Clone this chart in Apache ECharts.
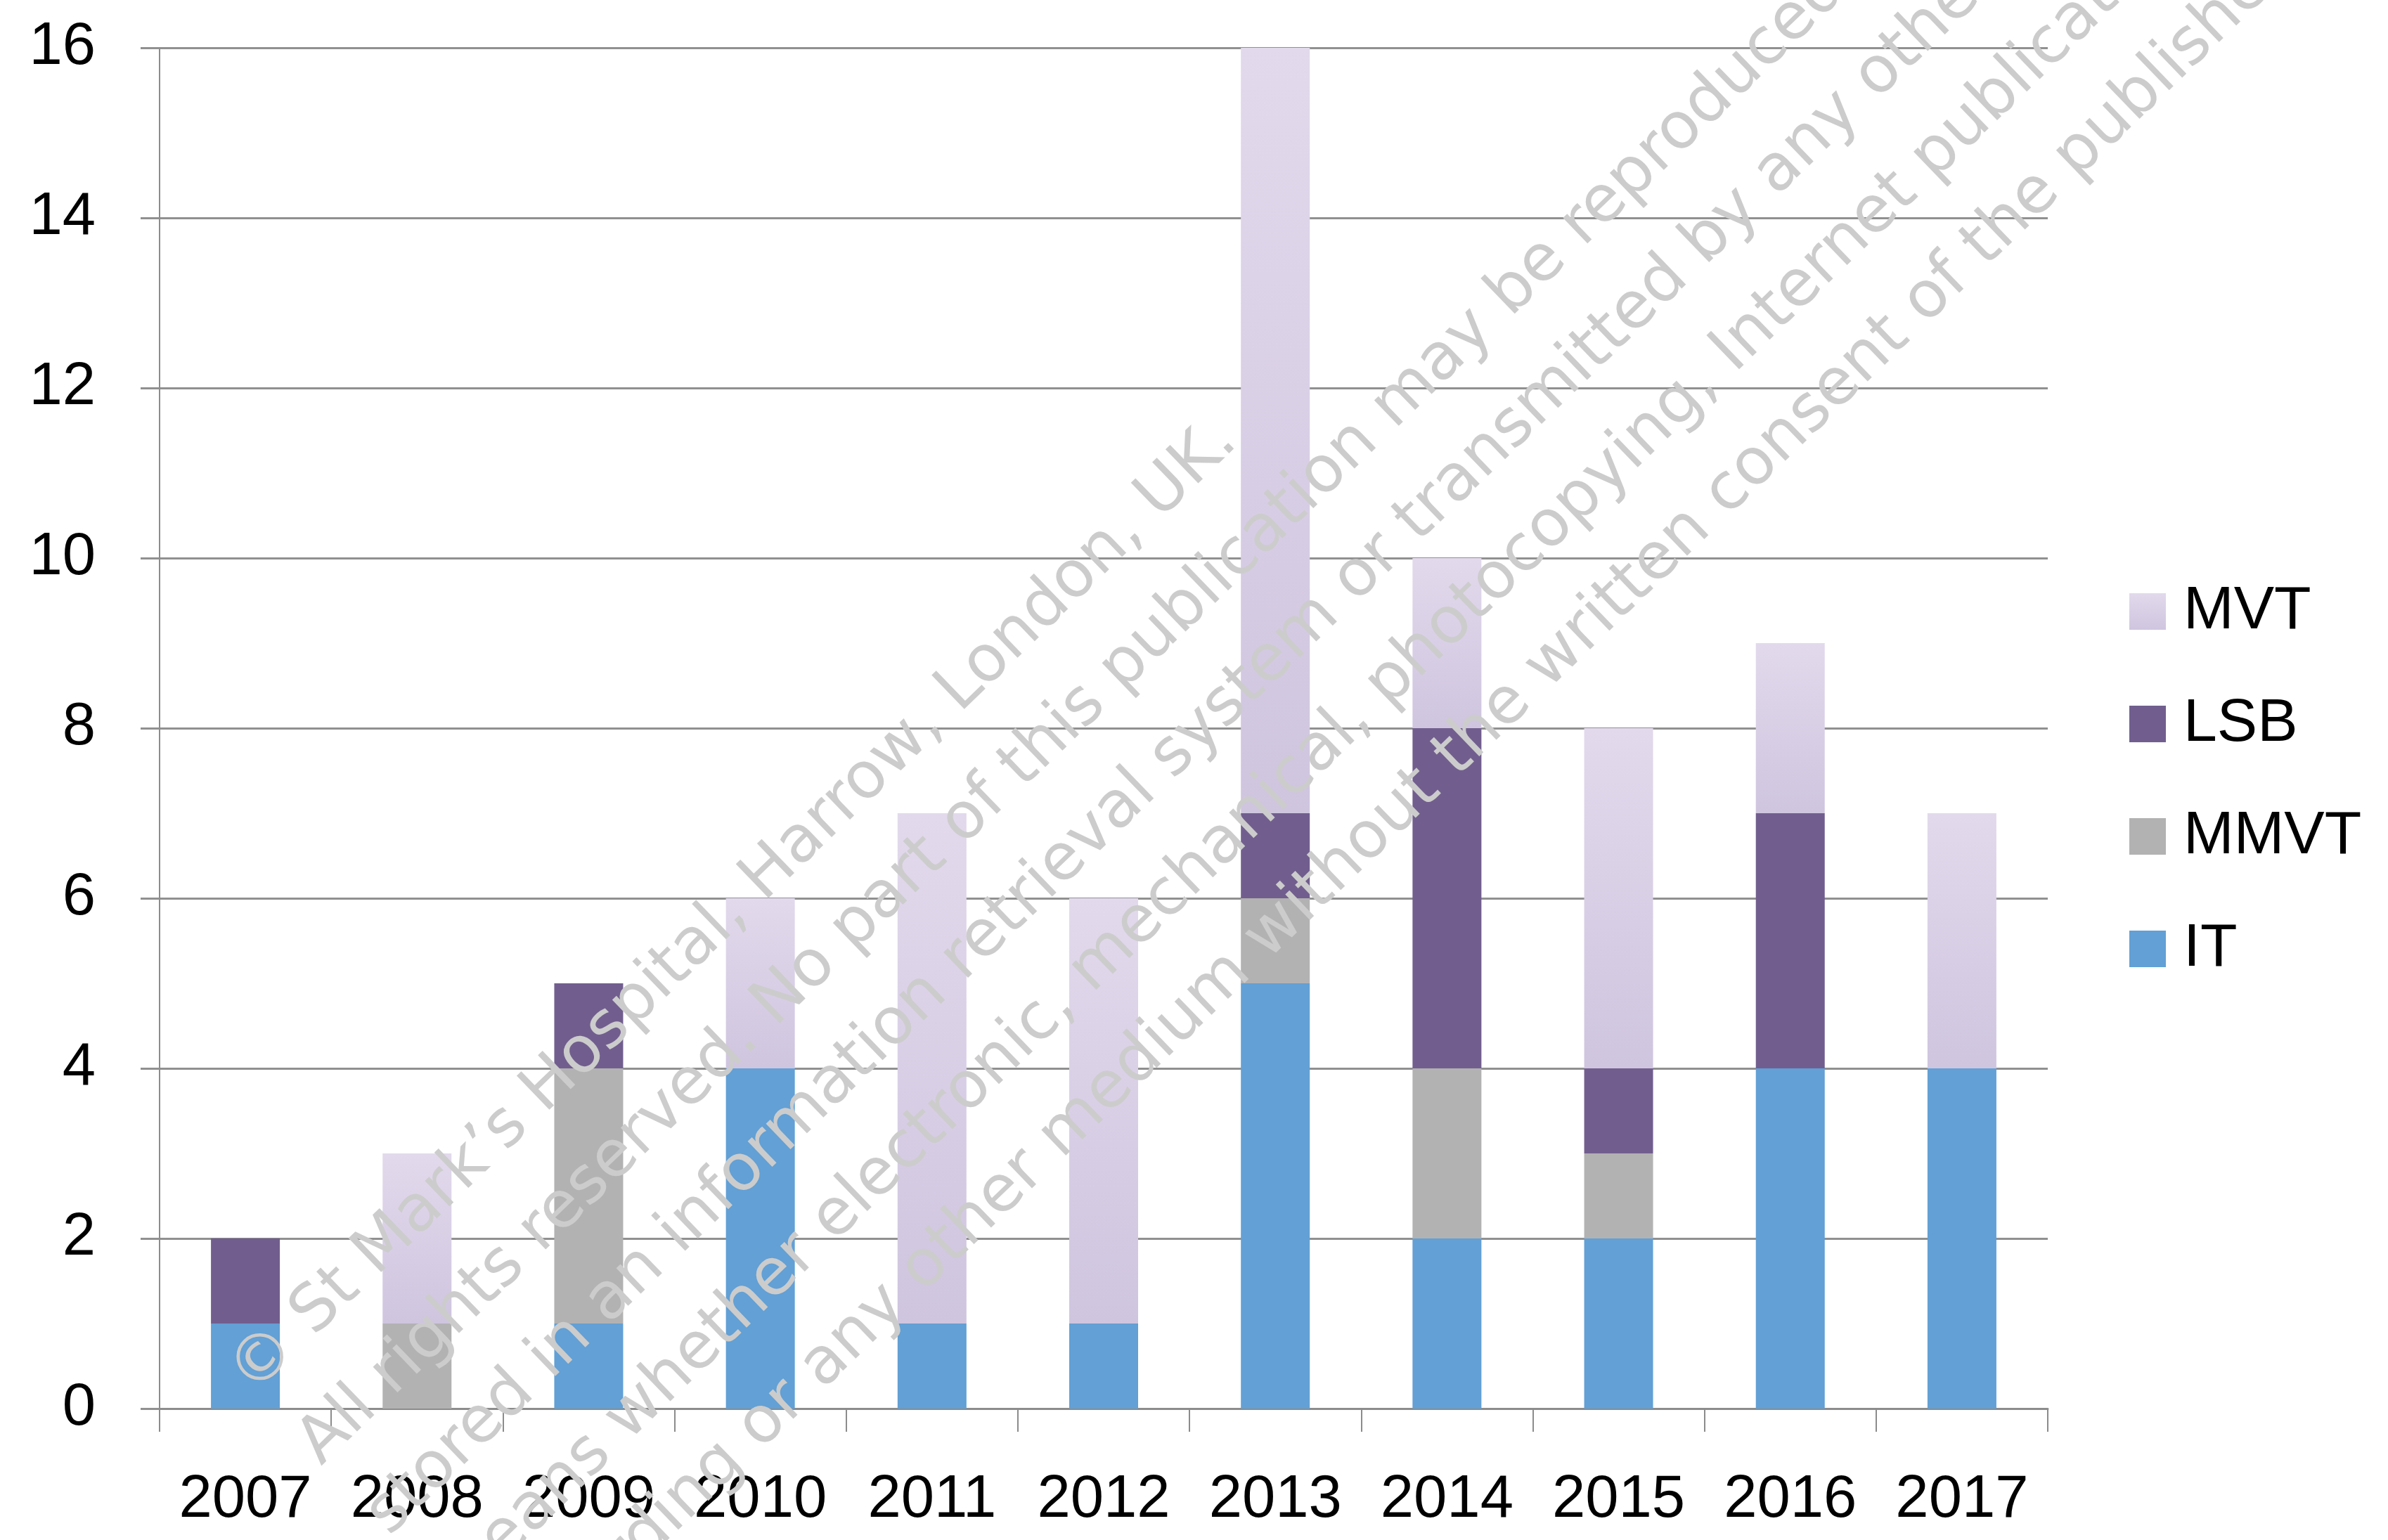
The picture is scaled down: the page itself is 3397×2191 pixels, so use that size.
<!DOCTYPE html>
<html>
<head>
<meta charset="utf-8">
<script src="https://cdn.jsdelivr.net/npm/echarts@6/dist/echarts.min.js"></script>
<style>
html,body{margin:0;padding:0;background:#fff;}
#chart{width:3397px;height:2191px;}
</style>
</head>
<body>
<div id="chart"></div>
<script>
const years = ['2007','2008','2009','2010','2011','2012','2013','2014','2015','2016','2017'];
const IT   = [1,0,1,4,1,1,5,2,2,4,4];
const MMVT = [0,1,3,0,0,0,1,2,1,0,0];
const LSB  = [1,0,1,0,0,0,1,4,1,3,0];
const MVT  = [0,2,0,2,6,5,9,2,4,2,3];
const legendOrder = ['MVT','LSB','MMVT','IT'];
const yTicks = {min:0, max:16, interval:2};
const watermarkLines = [
  "\u00A9 St Mark\u2019s Hospital, Harrow, London, UK.",
  "All rights reserved. No part of this publication may be reproduced,",
  "stored in an information retrieval system or transmitted by any other",
  "means whether electronic, mechanical, photocopying, Internet publication,",
  "recording or any other medium without the written consent of the publisher"
];

const FONT = '"Liberation Sans", Arial, sans-serif';
const chart = echarts.init(document.getElementById('chart'), null, {renderer:'canvas'});

// watermark sizing
const cv = document.createElement('canvas').getContext('2d');
cv.font = '100px "DejaVu Sans"';
const wmSize = 100 * 1950 / cv.measureText(watermarkLines[0]).width;
const ang = 44 * Math.PI / 180;
const wm = watermarkLines.map((t, k) => ({
  type: 'text',
  x: 375 + 97 * k,
  y: 2002 + 100 * k,
  rotation: ang,
  z: 100,
  silent: true,
  style: {
    text: t,
    font: wmSize.toFixed(1) + 'px "DejaVu Sans"',
    fill: '#cccccc',
    blend: 'multiply',
    textAlign: 'left',
    textVerticalAlign: 'bottom'
  }
}));

function grad(top, bottom){
  return new echarts.graphic.LinearGradient(0,0,0,1,[{offset:0,color:top},{offset:1,color:bottom}]);
}

const common = {type:'bar', stack:'total', barWidth:98};
chart.setOption({
  animation:false,
  backgroundColor:'#ffffff',
  grid:{left:227, right:484, top:68, bottom:187, containLabel:false},
  legend:{
    orient:'vertical', left:3024, top:822, itemWidth:52, itemHeight:52, itemGap:74,
    icon:'rect', data:legendOrder,
    textStyle:{fontFamily:FONT, fontSize:86, color:'#000', padding:[0,0,0,20]}
  },
  xAxis:{
    type:'category', data:years, boundaryGap:true,
    axisLine:{show:true, lineStyle:{color:'#8c8c8c', width:3}},
    axisTick:{show:true, length:33, lineStyle:{color:'#8c8c8c', width:2}},
    axisLabel:{fontFamily:FONT, fontSize:85, color:'#000', margin:88, interval:0},
    splitLine:{show:false}
  },
  yAxis:{
    type:'value', min:yTicks.min, max:yTicks.max, interval:yTicks.interval,
    axisLine:{show:true, lineStyle:{color:'#8c8c8c', width:2}},
    axisTick:{show:true, length:27, lineStyle:{color:'#909090', width:3}},
    axisLabel:{fontFamily:FONT, fontSize:85, color:'#000', margin:91, padding:[14,0,0,0]},
    splitLine:{show:true, lineStyle:{color:'#909090', width:3}}
  },
  series:[
    Object.assign({name:'IT', data:IT, itemStyle:{color:'#62a0d5'}}, common),
    Object.assign({name:'MMVT', data:MMVT, itemStyle:{color:'#b2b2b2'}}, common),
    Object.assign({name:'LSB', data:LSB, itemStyle:{color:'#715e8e'}}, common),
    Object.assign({name:'MVT', data:MVT, itemStyle:{color:grad('#e2d9ec','#cfc5df')}}, common)
  ],
  graphic: wm
});
</script>
</body>
</html>
